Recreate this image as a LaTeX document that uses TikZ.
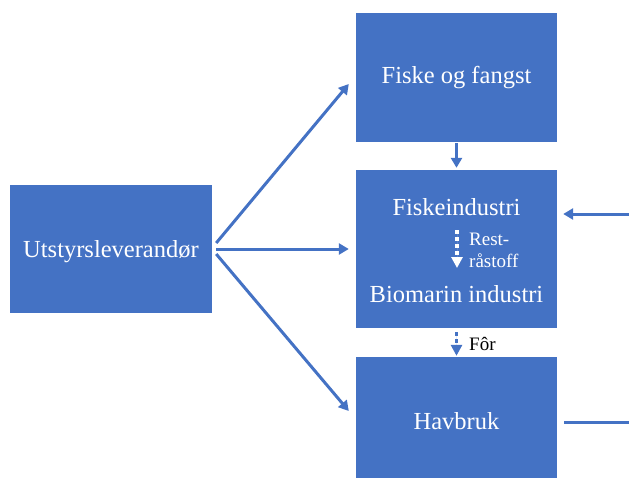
\documentclass[tikz,border=0pt]{standalone}
\usepackage{fontspec}
\setmainfont{Liberation Serif}
\usetikzlibrary{arrows.meta,calc}
\definecolor{boxblue}{HTML}{4472C4}
\begin{document}
\begin{tikzpicture}[x=1pt,y=-1pt,
  box/.style={fill=boxblue,draw=none,inner sep=0pt},
  boxtext/.style={text=white,font=\fontsize{24.5}{28}\selectfont,inner sep=0pt},
  smalltext/.style={font=\fontsize{19}{22}\selectfont,inner sep=0pt,align=left},
  arr/.style={draw=boxblue,line width=3pt,-{Triangle[length=10pt,width=11pt]}},
  dotarr/.style={line width=3.5pt,dash pattern=on 4pt off 3pt,-{Triangle[length=11pt,width=11pt]}}
]
\useasboundingbox (0,0) rectangle (629,479);
\node[box,minimum width=202pt,minimum height=128pt] (u) at (111,249) {};
\node[box,minimum width=201pt,minimum height=129pt] (f) at (456.5,77.5) {};
\node[box,minimum width=201pt,minimum height=158pt] (m) at (456.5,249) {};
\node[box,minimum width=201pt,minimum height=121pt] (h) at (456.5,417.5) {};

\node[boxtext] (ut) at (111,252) {Utstyrsleverandør};
\node[boxtext] (ft) at (456.5,78) {Fiske og fangst};
\node[boxtext] (fi) at (456.5,207) {Fiskeindustri};
\node[boxtext] (bi) at (456.5,294) {Biomarin industri};
\node[boxtext] (ht) at (456.5,421) {Havbruk};

\coordinate (rs) at (457,230);
\coordinate (re) at (457,268);
\draw[dotarr,draw=white,fill=white] (rs) -- (re);
\node[smalltext,text=white,anchor=west] (rl) at (469,250) {Rest-\\råstoff};

\draw[arr] ($(u.east)+(4,-6)$) -- ($(f.west)+(-7,6.5)$);
\draw[arr] ($(u.east)+(4,0)$) -- ($(m.west)+(-7,0)$);
\draw[arr] ($(u.east)+(4,5)$) -- ($(h.west)+(-7,-6.5)$);
\draw[arr] ($(f.south)+(0,1)$) -- ($(m.north)+(0,-2)$);

\coordinate (rin) at (629,214);
\draw[arr] (rin) -- ($(m.east)+(6,-35)$);
\coordinate (rout) at (629,422);
\draw[draw=boxblue,line width=3pt] ($(h.east)+(7,4.5)$) -- (rout);

\draw[dotarr,draw=boxblue,fill=boxblue,line width=3pt] ($(m.south)+(0,4)$) -- ($(h.north)+(0,-1)$);
\node[smalltext,anchor=west] (for) at (469,344) {Fôr};
\end{tikzpicture}
\end{document}
